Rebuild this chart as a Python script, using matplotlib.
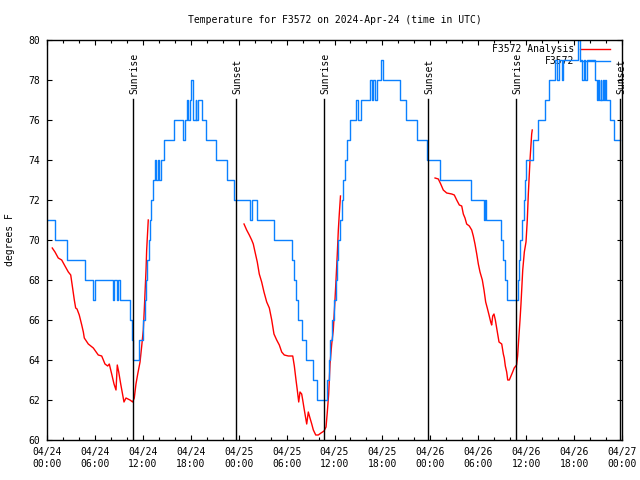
import matplotlib
matplotlib.use("Agg")
import matplotlib.pyplot as plt
from matplotlib.ticker import MultipleLocator

# hours since 04/24 00:00 UTC
obs_t = [0.0, 1.0, 2.5, 4.76, 5.76, 6.0, 8.26, 8.45, 8.77, 8.95, 9.14, 10.39, 10.64, 10.77,
         11.48, 12.02, 12.21, 12.4, 12.58, 12.77, 12.9, 13.02, 13.27, 13.52, 13.65, 13.84,
         14.02, 14.27, 14.65, 15.9, 17.03, 17.28, 17.47, 17.66, 17.91, 18.09, 18.34, 18.6,
         18.72, 18.91, 19.35, 19.91, 21.16, 22.5, 23.42, 25.42, 25.61, 26.3, 28.43, 30.68,
         30.93, 31.18, 31.43, 31.93, 32.43, 33.31, 33.81, 35.06, 35.25, 35.44, 35.69, 35.94,
         36.13, 36.31, 36.5, 36.69, 36.88, 37.07, 37.32, 37.57, 37.94, 38.69, 38.94, 39.32,
         40.45, 40.69, 40.82, 41.07, 41.26, 41.82, 42.13, 44.2, 44.95, 46.33, 47.55, 49.27,
         53.03, 54.78, 54.9, 55.03, 56.91, 57.1, 57.35, 57.6, 58.92, 59.1, 59.29, 59.48,
         59.67, 59.86, 60.04, 60.86, 61.48, 62.36, 62.86, 63.67, 63.86, 64.11, 64.43, 64.55,
         66.43, 66.74, 66.99, 67.18, 67.37, 67.56, 68.56, 68.87, 69.0, 69.18, 69.31, 69.43,
         69.56, 69.69, 69.81, 69.94, 70.5, 71.0, 71.75]
obs_v = [71, 70, 69, 68, 67, 68, 67, 68, 67, 68, 67, 66, 65, 64,
         65, 66, 67, 68, 69, 70, 71, 72, 73, 74, 73, 74,
         73, 74, 75, 76, 75, 76, 77, 76, 77, 78, 76, 77,
         76, 77, 76, 75, 74, 73, 72, 71, 72, 71, 70, 69,
         68, 67, 66, 65, 64, 63, 62, 63, 64, 65, 66, 67,
         68, 69, 70, 71, 72, 73, 74, 75, 76, 77, 76, 77,
         78, 77, 78, 77, 78, 79, 78, 77, 76, 75, 74, 73,
         72, 71, 72, 71, 70, 69, 68, 67, 68, 69, 70, 71,
         72, 73, 74, 75, 76, 77, 78, 79, 78, 79, 78, 79,
         80, 79, 78, 79, 78, 79, 78, 77, 78, 77, 78, 77,
         78, 77, 78, 77, 76, 75, 75]

ana1_t = [0.66, 1.0, 1.41, 1.84, 2.25, 2.67, 2.97, 3.17, 3.42, 3.59, 3.76, 4.04, 4.35, 4.55,
          4.67, 5.17, 5.8, 6.42, 6.85, 7.26, 7.6, 7.8, 8.1, 8.39, 8.64, 8.8, 8.98, 9.23,
          9.48, 9.64, 9.89, 10.39, 10.73, 10.93, 11.14, 11.36, 11.65, 11.86, 12.06, 12.18,
          12.4, 12.48, 12.68]
ana1_v = [69.6, 69.4, 69.1, 69.0, 68.7, 68.4, 68.25, 67.7, 67.0, 66.6, 66.55, 66.25, 65.75, 65.4,
          65.1, 64.8, 64.6, 64.25, 64.2, 63.8, 63.7, 63.8, 63.3, 62.8, 62.5, 63.75, 63.4, 62.8,
          62.25, 61.9, 62.1, 62.0, 61.9, 62.1, 62.8, 63.3, 63.9, 64.7, 65.5, 66.5,
          68.5, 69.5, 71.0]

ana2_t = [24.67, 25.0, 25.33, 25.63, 25.83, 26.05, 26.33, 26.58, 26.88, 27.17, 27.51, 27.84,
          28.14, 28.42, 28.76, 29.09, 29.39, 29.71, 30.22, 30.77, 30.97, 31.18, 31.34, 31.52,
          31.68, 31.89, 32.02, 32.18, 32.39, 32.52, 32.72, 32.93, 33.15, 33.35, 33.65, 33.97,
          34.31, 34.69, 34.94, 35.1, 35.27, 35.44, 35.65, 35.85, 36.06, 36.19, 36.35, 36.48,
          36.6, 36.75]
ana2_v = [70.8, 70.5, 70.25, 70.0, 69.8, 69.4, 68.9, 68.3, 67.9, 67.4, 66.9, 66.6,
          66.0, 65.3, 65.0, 64.75, 64.4, 64.25, 64.2, 64.2, 63.7, 63.0, 62.5, 61.9,
          62.4, 62.3, 62.0, 61.6, 61.1, 60.8, 61.4, 61.1, 60.8, 60.5, 60.25, 60.25,
          60.35, 60.45, 60.65, 61.4, 62.3, 63.8, 64.8, 65.5, 67.0, 68.0, 69.3, 70.5,
          71.3, 72.2]

ana3_t = [48.59, 49.0, 49.3, 49.62, 50.05, 50.68, 51.0, 51.3, 51.63, 51.93, 52.13, 52.34,
          52.55, 52.88, 53.18, 53.38, 53.59, 53.81, 54.01, 54.22, 54.51, 54.72, 54.93, 55.13,
          55.35, 55.56, 55.68, 55.81, 55.97, 56.14, 56.39, 56.6, 56.94, 57.14, 57.26, 57.39,
          57.56, 57.69, 57.89, 58.1, 58.31, 58.5, 58.8, 58.93, 59.06, 59.23, 59.35, 59.57,
          59.77, 59.98, 60.14, 60.27, 60.48, 60.69, 60.76]
ana3_v = [73.1, 73.05, 72.8, 72.5, 72.35, 72.3, 72.25, 72.0, 71.75, 71.7, 71.3, 71.1,
          70.8, 70.7, 70.5, 70.2, 69.8, 69.3, 68.8, 68.4, 68.0, 67.5, 66.9, 66.6,
          66.25, 65.9, 65.75, 66.2, 66.3, 66.0, 65.4, 64.9, 64.8, 64.3, 64.1, 63.7,
          63.4, 63.0, 63.0, 63.2, 63.4, 63.6, 63.75, 64.2, 65.0, 66.0, 66.8, 68.5,
          69.4, 69.9, 71.0, 72.3, 74.0, 75.3, 75.5]

sun_t = [10.77, 23.67, 34.69, 47.71, 58.73, 71.75]
sun_lbl = ["Sunrise", "Sunset", "Sunrise", "Sunset", "Sunrise", "Sunset"]

tick_lbl = ["04/24\n00:00", "04/24\n06:00", "04/24\n12:00", "04/24\n18:00",
            "04/25\n00:00", "04/25\n06:00", "04/25\n12:00", "04/25\n18:00",
            "04/26\n00:00", "04/26\n06:00", "04/26\n12:00", "04/26\n18:00",
            "04/27\n00:00"]

plt.rcParams['font.family'] = 'DejaVu Sans Mono'
plt.rcParams['font.size'] = 7

fig = plt.figure(figsize=(6.4, 4.8), dpi=100)
ax = fig.add_axes([47/640, 40/480, 575/640, 400/480])

red = '#ff0000'
blue = '#0a80ff'
ax.plot(ana1_t, ana1_v, color=red, lw=1.0, label="F3572 Analysis")
ax.plot(ana2_t, ana2_v, color=red, lw=1.0)
ax.plot(ana3_t, ana3_v, color=red, lw=1.0)
ax.plot(obs_t, obs_v, color=blue, lw=1.0, drawstyle='steps-post', label="F3572")

for t, s in zip(sun_t, sun_lbl):
    ax.plot([t, t], [60, 77.05], color='black', lw=1.0)
    ax.text(t + 0.15, 77.3, s, rotation=90, ha='center', va='bottom')

ax.set_xlim(0, 72)
ax.set_ylim(60, 80)
ax.set_xticks(range(0, 73, 6))
ax.set_xticklabels(tick_lbl)
ax.xaxis.set_minor_locator(MultipleLocator(2))
ax.yaxis.set_major_locator(MultipleLocator(2))
ax.tick_params(which='both', direction='in', top=True, right=True, width=0.8)
ax.tick_params(which='major', length=3.5, pad=5)
ax.tick_params(which='minor', length=2)
for sp in ax.spines.values():
    sp.set_linewidth(1.0)

leg = ax.legend(loc='upper right', bbox_to_anchor=(0.979, 0.99), borderaxespad=0,
                borderpad=0, frameon=False, markerfirst=False, handlelength=3.1,
                handletextpad=0.6, labelspacing=0.25)
leg.set_zorder(1)

fig.text(335/640, 1 - 20/480, "Temperature for F3572 on 2024-Apr-24 (time in UTC)",
         ha='center', va='center')
fig.text(10/640, 0.5, "degrees F", rotation=90, ha='center', va='center')

fig.savefig("out.png", dpi=100)
